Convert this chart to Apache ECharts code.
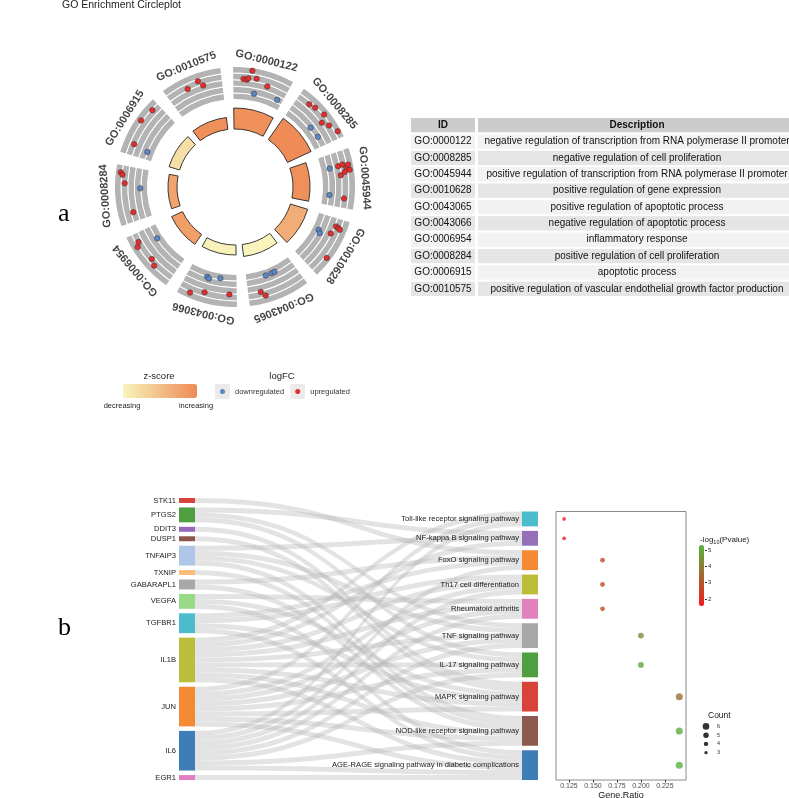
<!DOCTYPE html>
<html><head><meta charset="utf-8">
<script src="https://cdn.jsdelivr.net/npm/echarts@6/dist/echarts.min.js"></script>
<style>html,body{margin:0;padding:0;background:#fff;}#c{width:789px;height:798px;}</style>
</head><body><div id="c"></div>
<script>
// ================= DATA =================
const goTerms = ['GO:0000122','GO:0008285','GO:0045944','GO:0010628','GO:0043065','GO:0043066','GO:0006954','GO:0008284','GO:0006915','GO:0010575'];
const goDescriptions = [
  'negative regulation of transcription from RNA polymerase II promoter',
  'negative regulation of cell proliferation',
  'positive regulation of transcription from RNA polymerase II promoter',
  'positive regulation of gene expression',
  'positive regulation of apoptotic process',
  'negative regulation of apoptotic process',
  'inflammatory response',
  'positive regulation of cell proliferation',
  'apoptotic process',
  'positive regulation of vascular endothelial growth factor production'
];
const goZScore = [1.6, 1.7, 1.62, 1.0, -0.45, -0.38, 1.3, 1.2, 0.0, 1.62];
const goLogAdjP = [10.5, 13, 8.5, 9, 6, 5, 6, 4.5, 5.5, 6];
// genes in each term: [termIndex, position inside term (deg), logFC]
const upGenes = [
  [0,12.5,4.4],[0,8.5,2.1],[0,10.3,2.0],[0,11.0,2.4],[0,15.3,2.6],[0,21.8,1.4],
  [1,9.9,2.8],[1,13.3,3.2],[1,18.9,3.7],[1,21.5,2.0],[1,24.8,3.1],[1,29.5,4.2],
  [2,10.6,1.3],[2,10.2,2.4],[2,12.0,3.3],[2,13.4,4.0],[2,14.2,2.7],[2,15.7,1.6],[2,10.8,3.8],[2,28.0,2.4],
  [3,7.3,2.1],[3,7.7,2.8],[3,8.2,3.3],[3,11.9,1.6],[3,23.7,4.0],
  [4,26.2,2.0],[4,24.2,3.2],
  [5,27.1,3.7],[5,20.1,2.4],[5,7.0,1.9],
  [6,28.3,2.8],[6,26.3,3.6],[6,17.1,2.5],[6,13.8,3.2],
  [7,29.3,3.8],[7,28.2,3.3],[7,23.9,2.6],[7,8.1,1.2],
  [8,28.9,3.2],[8,21.3,3.8],[8,9.0,2.4],
  [9,20.7,3.0],[9,22.6,1.6],[9,14.2,2.2]
];
const downGenes = [
  [0,15.5,-1.2],[0,29.8,-0.8],
  [1,19.9,-1.0],[1,26.8,-0.8],
  [2,11.0,-0.9],[2,26.9,-1.3],
  [3,13.1,-1.5],[3,14.6,-0.9],
  [4,20.8,-1.6],[4,17.1,-1.6],[4,15.0,-1.6],
  [5,21.2,-1.5],[5,19.9,-1.2],[5,13.1,-1.9],
  [6,24.6,-1.7],
  [7,21.2,-1.3],
  [8,7.8,-1.4]
];

const genes = ['STK11','PTGS2','DDIT3','DUSP1','TNFAIP3','TXNIP','GABARAPL1','VEGFA','TGFBR1','IL1B','JUN','IL6','EGR1'];
const geneColors = ['#d7433a','#4f9e3f','#9467bd','#8c564b','#aec7e8','#ffbb78','#a8a8a8','#98d98a','#4bbccc','#bcbd3a','#f58a35','#3f7db8','#e17fc2'];
const pathways = ['Toll-like receptor signaling pathway','NF-kappa B signaling pathway','FoxO signaling pathway','Th17 cell differentiation','Rheumatoid arthritis','TNF signaling pathway','IL-17 signaling pathway','MAPK signaling pathway','NOD-like receptor signaling pathway','AGE-RAGE signaling pathway in diabetic complications'];
const pathwayColors = ['#4bbccc','#9470bb','#f58a35','#bcbd3a','#e083bd','#a8a8a8','#4f9e3f','#d7433a','#8c5a4e','#3f7db8'];
const pathwayGenes = [
  ['IL1B','JUN','IL6'],
  ['PTGS2','IL1B','TNFAIP3'],
  ['STK11','GABARAPL1','TGFBR1','IL6'],
  ['TGFBR1','IL1B','JUN','IL6'],
  ['VEGFA','IL1B','JUN','IL6'],
  ['PTGS2','TNFAIP3','IL1B','JUN','IL6'],
  ['PTGS2','TNFAIP3','IL1B','JUN','IL6'],
  ['DDIT3','DUSP1','VEGFA','TGFBR1','IL1B','JUN'],
  ['TNFAIP3','TXNIP','GABARAPL1','IL1B','JUN','IL6'],
  ['VEGFA','TGFBR1','IL1B','JUN','IL6','EGR1']
];
const geneRatio = [0.12,0.12,0.16,0.16,0.16,0.20,0.20,0.24,0.24,0.24];
const pathwayLogP = [1.7,1.75,2.7,2.75,2.8,4.4,5.0,3.6,5.1,5.25];
const xTicks = [0.125,0.150,0.175,0.200,0.225];
const pTicks = [2,3,4,5];
const countLegend = [3,4,5,6];

// ================= LAYOUT =================
const FONT = '"Liberation Sans", Arial, sans-serif';
const CX = 235, CY = 187, ROT = 4;
const RING_INNER = 58, BAND_INNER = 88, BAND_OUTER = 120, LABEL_R = 130, SIG_SCALE = 2, N_BANDS = 5, LINE_W = 1;
const LFC_MIN = -3, LFC_MAX = 5;
const SEG = 360 / goTerms.length;
const SK_LEFT = 179, SK_TOP = 498, SK_RIGHT = 251, SK_BOTTOM = 18, NODE_GAP = 4.5;
const SK_H = 798 - SK_TOP - SK_BOTTOM;

const pathwayCount = pathwayGenes.map(g => g.length);
const totalCount = pathwayCount.reduce((a, b) => a + b, 0);
const ky = (SK_H - (genes.length - 1) * NODE_GAP) / totalCount;
const gapUnits = NODE_GAP / ky;
const spacers = genes.length - pathways.length;
let cum = 0;
const rowCenter = pathwayCount.map((c, i) => { const v = cum + c / 2; cum += c + gapUnits; return v; });
const yMax = totalCount + (pathways.length - 1) * gapUnits;
const dotTop = SK_TOP + spacers * NODE_GAP;

const lfcR = v => BAND_INNER + (v - LFC_MIN) / (LFC_MAX - LFC_MIN) * (BAND_OUTER - BAND_INNER);
const geneData = arr => arr.map(g => [lfcR(g[2]), g[0] * SEG + g[1]]);

const svgIcon = c => 'image://data:image/svg+xml;charset=utf-8,' + encodeURIComponent(
  "<svg xmlns='http://www.w3.org/2000/svg' width='30' height='30'><rect width='30' height='30' fill='#ebebeb'/><circle cx='15' cy='15' r='5' fill='" + c + "'/></svg>");

const RED = '#e42d2d', BLUE = '#5a87c6';

// ================= SERIES =================
const series = [];
const ringBar = (data, itemStyle) => ({type:'bar', coordinateSystem:'polar', polarIndex:0, stack:'ring',
  barCategoryGap:'17%', silent:true, itemStyle:itemStyle, data:data});
series.push(ringBar(goTerms.map((_, i) => [RING_INNER, i]), {color:'rgba(0,0,0,0)'}));
series.push(ringBar(goTerms.map((_, i) => [goLogAdjP[i] * SIG_SCALE, i, goZScore[i]]), {borderColor:'#262626', borderWidth:0.9}));
series.push(ringBar(goTerms.map((_, i) => [BAND_INNER - RING_INNER - goLogAdjP[i] * SIG_SCALE, i]), {color:'rgba(0,0,0,0)'}));
const bandT = (BAND_OUTER - BAND_INNER - (N_BANDS - 1) * LINE_W) / N_BANDS;
for (let k = 0; k < N_BANDS; k++) {
  series.push(ringBar(goTerms.map((_, i) => [bandT, i]), {color:'#b3b3b3'}));
  if (k < N_BANDS - 1) series.push(ringBar(goTerms.map((_, i) => [LINE_W, i]), {color:'#ffffff'}));
}
series.push({type:'scatter', coordinateSystem:'polar', polarIndex:0, symbolSize:0, silent:true,
  label:{show:true, position:'inside', formatter:p => p.name, fontSize:11, fontWeight:'bold', color:'#111', fontFamily:FONT},
  data: goTerms.map((t, i) => ({name:t, value:[LABEL_R, i], label:{rotate: -((i + 0.5) * SEG - ROT)}}))});
series.push({name:'downregulated', type:'scatter', coordinateSystem:'polar', polarIndex:1, symbolSize:5.5, silent:true,
  itemStyle:{color:BLUE, borderColor:'#333', borderWidth:0.5, opacity:1}, data: geneData(downGenes)});
series.push({name:'upregulated', type:'scatter', coordinateSystem:'polar', polarIndex:1, symbolSize:5.5, silent:true,
  itemStyle:{color:RED, borderColor:'#333', borderWidth:0.5, opacity:1}, data: geneData(upGenes)});

const rowFill = i => i === 0 ? '#cccccc' : (i % 2 === 1 ? '#f2f2f2' : '#e5e5e5');
const tableSeries = (gridIdx, texts) => ({
  type:'bar', xAxisIndex:gridIdx, yAxisIndex:gridIdx, barCategoryGap:'0%', silent:true,
  data: texts.map((t, i) => ({value:1, itemStyle:{color:rowFill(i)},
    label:{fontWeight: i === 0 ? 'bold' : 'normal'}})),
  itemStyle:{borderColor:'#ffffff', borderWidth:1},
  label:{show:true, position:'inside', overflow:'none', fontSize:10, color:'#111', fontFamily:FONT,
    formatter: p => texts[p.dataIndex]}
});
series.push(tableSeries(0, ['ID'].concat(goTerms)));
series.push(tableSeries(1, ['Description'].concat(goDescriptions)));

const nodes = genes.map((g, i) => ({name:g, itemStyle:{color:geneColors[i]}}))
  .concat(Array.from({length:spacers}, (_, k) => ({name:'__spacer' + k, depth:1, itemStyle:{opacity:0}, label:{show:false}})))
  .concat(pathways.map((p, i) => ({name:p, itemStyle:{color:pathwayColors[i]}})));
const links = [];
pathways.forEach((p, i) => pathwayGenes[i].forEach(g => links.push({source:g, target:p, value:1})));
series.push({type:'sankey', left:SK_LEFT, top:SK_TOP, right:SK_RIGHT, bottom:SK_BOTTOM, nodeWidth:16, nodeGap:NODE_GAP,
  layoutIterations:0, draggable:false, silent:true, emphasis:{disabled:true},
  itemStyle:{borderWidth:0},
  label:{position:'left', distance:3, fontSize:7.6, color:'#1a1a1a', fontFamily:FONT},
  lineStyle:{color:'#b5b5b5', opacity:0.38, curveness:0.5},
  data:nodes, links:links});

const dotSeriesIndex = series.length;
series.push({type:'scatter', xAxisIndex:2, yAxisIndex:2, silent:true,
  symbolSize: v => v[2] * 1.1 + 0.4,
  data: pathways.map((p, i) => [geneRatio[i], rowCenter[i], pathwayCount[i], pathwayLogP[i]])});
series.push({type:'scatter', xAxisIndex:4, yAxisIndex:4, silent:true, itemStyle:{color:'#000'},
  symbolSize: v => v[2] * 1.1,
  data: countLegend.map(c => [0, String(c), c])});

const hid = {show:false};
const option = {
  animation:false,
  textStyle:{fontFamily:FONT},
  polar:[{center:[CX, CY], radius:140}, {center:[CX, CY], radius:140}],
  angleAxis:[
    {polarIndex:0, type:'category', data:goTerms, startAngle:90 + ROT, clockwise:true, show:false,
      axisLine:hid, axisTick:hid, axisLabel:hid, splitLine:hid},
    {polarIndex:1, type:'value', min:0, max:360, startAngle:90 + ROT, clockwise:true, show:false,
      axisLine:hid, axisTick:hid, axisLabel:hid, splitLine:hid}
  ],
  radiusAxis:[
    {polarIndex:0, type:'value', min:0, max:140, show:false, axisLine:hid, axisTick:hid, axisLabel:hid, splitLine:hid},
    {polarIndex:1, type:'value', min:0, max:140, show:false, axisLine:hid, axisTick:hid, axisLabel:hid, splitLine:hid}
  ],
  grid:[
    {left:410, top:117, width:66, height:180, outerBoundsMode:'none'},
    {left:477, top:117, width:320, height:180, outerBoundsMode:'none'},
    {left:556, top:dotTop, width:130, height:780 - dotTop, show:true, borderColor:'#8a8a8a', borderWidth:1, outerBoundsMode:'none'},
    {left:699, top:545, width:5, height:61, outerBoundsMode:'none'},
    {left:703, top:722, width:6, height:35, outerBoundsMode:'none'}
  ],
  xAxis:[
    {gridIndex:0, type:'value', min:0, max:1, show:false},
    {gridIndex:1, type:'value', min:0, max:1, show:false},
    {gridIndex:2, type:'value', min:0.1115, max:0.247, position:'bottom', axisLine:{show:false, onZero:false}, splitLine:hid,
      axisTick:{show:true, length:2.5, lineStyle:{color:'#333'}, customValues:xTicks},
      axisLabel:{fontSize:7, color:'#4d4d4d', margin:3, customValues:xTicks, formatter:v => v.toFixed(3)},
      name:'Gene.Ratio', nameLocation:'middle', nameGap:10, nameTextStyle:{fontSize:9, color:'#1a1a1a'}},
    {gridIndex:3, type:'value', min:0, max:1, show:false},
    {gridIndex:4, type:'value', min:-1, max:1, show:false}
  ],
  yAxis:[
    {gridIndex:0, type:'category', data:['ID'].concat(goTerms), inverse:true, show:false},
    {gridIndex:1, type:'category', data:['Description'].concat(goTerms), inverse:true, show:false},
    {gridIndex:2, type:'value', min:0, max:yMax, inverse:true, show:false, axisLine:{onZero:false}},
    {gridIndex:3, type:'value', min:1.57, max:5.31, position:'right', offset:1, axisLine:{show:false, onZero:false}, splitLine:hid,
      axisTick:{show:true, length:2, lineStyle:{color:'#333'}, customValues:pTicks},
      axisLabel:{fontSize:6, color:'#333', margin:3, customValues:pTicks}},
    {gridIndex:4, type:'category', data:countLegend.map(String), position:'right', axisLine:{show:false, onZero:false}, axisTick:hid, splitLine:hid,
      axisLabel:{fontSize:5.5, color:'#333', margin:8}}
  ],
  visualMap:[
    {type:'continuous', seriesIndex:1, dimension:2, min:-0.45, max:1.73, orient:'horizontal', left:123, top:384,
      itemWidth:14, itemHeight:74, padding:0, calculable:false, hoverLink:false, text:null, showLabel:false,
      inRange:{color:['#f8f4bc', '#ef8a55']}},
    {type:'continuous', seriesIndex:dotSeriesIndex, dimension:3, min:1.57, max:5.31, orient:'vertical', left:699, top:545,
      itemWidth:5, itemHeight:61, padding:0, calculable:false, hoverLink:false, text:null, showLabel:false,
      inRange:{color:['#f31a1e', '#55b540']}}
  ],
  legend:{left:215, top:384, orient:'horizontal', itemWidth:15, itemHeight:15, itemGap:6, padding:0, selectedMode:false,
    textStyle:{fontSize:7.5, color:'#333', fontFamily:FONT},
    data:[{name:'downregulated', icon:svgIcon(BLUE)}, {name:'upregulated', icon:svgIcon(RED)}]},
  graphic:[
    {type:'text', x:62, y:5, style:{text:'GO Enrichment Circleplot', fontSize:10.5, fontFamily:FONT, fill:'#222', align:'left', verticalAlign:'middle'}},
    {type:'text', x:58, y:214, style:{text:'a', fontSize:26, fontFamily:'"Liberation Serif", serif', fill:'#000', align:'left', verticalAlign:'middle'}},
    {type:'text', x:58, y:628, style:{text:'b', fontSize:26, fontFamily:'"Liberation Serif", serif', fill:'#000', align:'left', verticalAlign:'middle'}},
    {type:'text', x:159, y:376, style:{text:'z-score', fontSize:9.5, fontFamily:FONT, fill:'#222', align:'center', verticalAlign:'middle'}},
    {type:'text', x:282, y:376, style:{text:'logFC', fontSize:9.5, fontFamily:FONT, fill:'#222', align:'center', verticalAlign:'middle'}},
    {type:'text', x:122, y:406, style:{text:'decreasing', fontSize:7.5, fontFamily:FONT, fill:'#222', align:'center', verticalAlign:'middle'}},
    {type:'text', x:196, y:406, style:{text:'increasing', fontSize:7.5, fontFamily:FONT, fill:'#222', align:'center', verticalAlign:'middle'}},
    {type:'text', x:708, y:716, style:{text:'Count', fontSize:8.5, fontFamily:FONT, fill:'#1a1a1a', align:'left', verticalAlign:'middle'}},
    {type:'text', x:700, y:540, style:{text:'{n|-log}{s|10}{n|(Pvalue)}', fontFamily:FONT, fill:'#1a1a1a', align:'left', verticalAlign:'middle',
      rich:{n:{fontSize:8, lineHeight:11, fontFamily:FONT, fill:'#1a1a1a'}, s:{fontSize:5.5, lineHeight:11, verticalAlign:'bottom', fontFamily:FONT, fill:'#1a1a1a'}}}}
  ],
  series:series
};
const chart = echarts.init(document.getElementById('c'), null, {renderer:'canvas'});
chart.setOption(option);
</script></body></html>
